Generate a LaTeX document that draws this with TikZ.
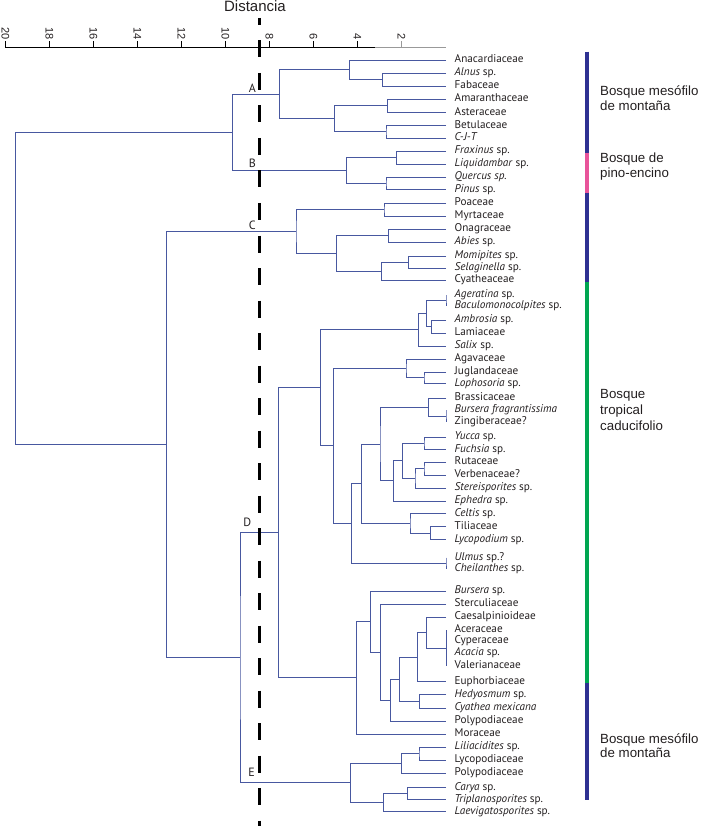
\documentclass[tikz,border=0pt]{standalone}
\usepackage{fontspec}
\newfontfamily\leaffont{PT Sans}
\newfontfamily\arialfont{Liberation Sans}
\definecolor{dencol}{RGB}{72,88,160}
\definecolor{txtcol}{RGB}{35,31,32}
\definecolor{navybar}{RGB}{46,49,146}
\definecolor{pinkbar}{RGB}{232,84,154}
\definecolor{greenbar}{RGB}{0,166,81}
\begin{document}
\begin{tikzpicture}[x=1pt,y=-1pt,
  den/.style={draw=dencol, line width=0.85pt},
  leaf/.style={anchor=west, inner sep=0pt, font=\leaffont\fontsize{11.2}{13}\selectfont, text height=7.5pt, text depth=2pt, text=txtcol},
  clusterlbl/.style={inner sep=0pt, font=\leaffont\fontsize{12}{14}\selectfont, text=txtcol},
  ticklbl/.style={rotate=-90, anchor=east, inner sep=0pt, font=\arialfont\fontsize{11}{13}\selectfont, text=txtcol},
  forestlbl/.style={anchor=base west, inner sep=0pt, font=\arialfont\fontsize{13.3}{15}\selectfont, text=txtcol},
  cutline/.style={draw=black, line width=3.2pt, dash pattern=on 17pt off 15.5pt, dash phase=10pt},
  bar/.style={line width=4.5pt}
]
\useasboundingbox (0,0) rectangle (702,826);

% title and axis
\node[inner sep=0pt, font=\arialfont\fontsize{15}{17}\selectfont, text=txtcol] (title) at (255,6.5) {Distancia};
\coordinate (ax0) at (5,47);
\coordinate (axm) at (375,47);
\coordinate (ax1) at (446,47);
\draw[line width=0.8pt] (ax0) -- (axm);
\draw[line width=0.8pt, draw=black!40] (axm) -- (ax1);
\foreach \d in {4,6,...,20} {
  \coordinate (tk\d) at ({445.5-22*\d},47);
  \draw[line width=0.8pt] (tk\d) -- ++(0,-5.5);
  \node[ticklbl] (tl\d) at ({445.5-22*\d},40) {\d};
}
\coordinate (tk2) at (401.5,47);
\draw[line width=0.8pt, draw=black!40] (tk2) -- ++(0,-5.5);
\node[ticklbl] (tl2) at (401.5,40) {2};

% leaves
\foreach \i/\y/\t in {
 1/60/Anacardiaceae, 2/73/{\textit{Alnus} sp.}, 3/86/Fabaceae, 4/99/Amaranthaceae,
 5/112.5/Asteraceae, 6/125.5/Betulaceae, 7/138/{\textit{C-J-T}}, 8/151/{\textit{Fraxinus} sp.},
 9/164/{\textit{Liquidambar} sp.}, 10/177/{\textit{Quercus sp.}}, 11/189.5/{\textit{Pinus} sp.},
 12/203/Poaceae, 13/216/Myrtaceae, 14/229/Onagraceae, 15/242/{\textit{Abies} sp.},
 16/256/{\textit{Momipites} sp.}, 17/268/{\textit{Selaginella} sp.}, 18/280/Cyatheaceae,
 19/295/{\textit{Ageratina} sp.}, 20/306/{\textit{Baculomonocolpites} sp.}, 21/320/{\textit{Ambrosia} sp.},
 22/333/Lamiaceae, 23/346/{\textit{Salix} sp.}, 24/359/Agavaceae, 25/372/Juglandaceae,
 26/383.5/{\textit{Lophosoria} sp.}, 27/398/Brassicaceae, 28/410/{\textit{Bursera fragrantissima}},
 29/422/Zingiberaceae?, 30/437/{\textit{Yucca} sp.}, 31/449.5/{\textit{Fuchsia} sp.}, 32/462/Rutaceae,
 33/475/Verbenaceae?, 34/488/{\textit{Stereisporites} sp.}, 35/501/{\textit{Ephedra} sp.},
 36/513.5/{\textit{Celtis} sp.}, 37/526.5/Tiliaceae, 38/539.5/{\textit{Lycopodium} sp.},
 39/557.5/{\textit{Ulmus} sp.?}, 40/568.5/{\textit{Cheilanthes} sp.}, 41/591/{\textit{Bursera} sp.},
 42/604/Sterculiaceae, 43/617/Caesalpinioideae, 44/630/Aceraceae, 45/641/Cyperaceae,
 46/653/{\textit{Acacia} sp.}, 47/666/Valerianaceae, 48/681.5/Euphorbiaceae,
 49/694.5/{\textit{Hedyosmum} sp.}, 50/708/{\textit{Cyathea mexicana}}, 51/721/Polypodiaceae,
 52/734/Moraceae, 53/747/{\textit{Liliacidites} sp.}, 54/760/Lycopodiaceae, 55/773/Polypodiaceae,
 56/787.5/{\textit{Carya} sp.}, 57/799.5/{\textit{Triplanosporites} sp.}, 58/811.5/{\textit{Laevigatosporites} sp.}} {
  \coordinate (l\i) at (446,\y);
  \node[leaf] (t\i) at (454.5,\y+0.2) {\t};
}

% internal nodes
\coordinate (a1) at (382.3,79.5);
\coordinate (a2) at (349.3,69.75);
\coordinate (a3) at (387.7,105.75);
\coordinate (a4) at (386,131.75);
\coordinate (a5) at (334.3,118.75);
\coordinate (A) at (279.3,94.25);
\coordinate (b1) at (396.7,157.5);
\coordinate (b2) at (386,183.25);
\coordinate (B) at (346.7,170.4);
\coordinate (AB) at (232.3,132.3);
\coordinate (c1) at (384,209.5);
\coordinate (c2) at (388.3,235.5);
\coordinate (c3) at (408.3,262);
\coordinate (c4) at (381.7,271);
\coordinate (c5) at (336.7,253.25);
\coordinate (C) at (296,231.4);
\coordinate (d1) at (446,300.5);
\coordinate (d2) at (431.7,326.5);
\coordinate (d3) at (426.7,313.5);
\coordinate (d4) at (418.3,329.75);
\coordinate (d5) at (424,377.75);
\coordinate (d6) at (406,368.4);
\coordinate (e1) at (446,416);
\coordinate (e2) at (428.3,407);
\coordinate (yf) at (424,443.25);
\coordinate (rv) at (424,468.5);
\coordinate (U) at (415,478.25);
\coordinate (V) at (402.7,460.75);
\coordinate (W) at (393.3,480.9);
\coordinate (Z) at (380,443.95);
\coordinate (tl) at (430.7,533);
\coordinate (ct) at (410,523.25);
\coordinate (Y) at (361.7,483.6);
\coordinate (uc) at (446,563);
\coordinate (X) at (351.7,523.3);
\coordinate (d8) at (333.3,445.85);
\coordinate (d9) at (320.7,387.8);
\coordinate (acv) at (446,648);
\coordinate (cs) at (426.7,632.5);
\coordinate (eu) at (417.3,657);
\coordinate (hc) at (419.3,701.25);
\coordinate (ehc) at (399.3,679.1);
\coordinate (pp) at (390.7,700.05);
\coordinate (st) at (380.7,652);
\coordinate (bs) at (370.7,621.5);
\coordinate (mo) at (356.7,677.75);
\coordinate (D) at (278.3,532.8);
\coordinate (ll) at (419,753.5);
\coordinate (llp) at (401.7,763.25);
\coordinate (ct2) at (407.7,793.5);
\coordinate (ctl) at (383.3,802.5);
\coordinate (E) at (350.7,782.9);
\coordinate (DE) at (240,657.85);
\coordinate (CDE) at (166.7,444.6);
\coordinate (root) at (15.7,288.45);

% connectors
\draw[den] (l2) -| (a1) |- (l3);
\draw[den] (l1) -| (a2) |- (a1);
\draw[den] (l4) -| (a3) |- (l5);
\draw[den] (l6) -| (a4) |- (l7);
\draw[den] (a3) -| (a5) |- (a4);
\draw[den] (a2) -| (A) |- (a5);
\draw[den] (l8) -| (b1) |- (l9);
\draw[den] (l10) -| (b2) |- (l11);
\draw[den] (b1) -| (B) |- (b2);
\draw[den] (A) -| (AB) |- (B);
\draw[den] (l12) -| (c1) |- (l13);
\draw[den] (l14) -| (c2) |- (l15);
\draw[den] (l16) -| (c3) |- (l17);
\draw[den] (c3) -| (c4) |- (l18);
\draw[den] (c2) -| (c5) |- (c4);
\draw[den] (c1) -| (C) |- (c5);
\draw[den] (l19) -| (d1) |- (l20);
\draw[den] (l21) -| (d2) |- (l22);
\draw[den] (d1) -| (d3) |- (d2);
\draw[den] (d3) -| (d4) |- (l23);
\draw[den] (l25) -| (d5) |- (l26);
\draw[den] (l24) -| (d6) |- (d5);
\draw[den] (l28) -| (e1) |- (l29);
\draw[den] (l27) -| (e2) |- (e1);
\draw[den] (l30) -| (yf) |- (l31);
\draw[den] (l32) -| (rv) |- (l33);
\draw[den] (rv) -| (U) |- (l34);
\draw[den] (yf) -| (V) |- (U);
\draw[den] (V) -| (W) |- (l35);
\draw[den] (e2) -| (Z) |- (W);
\draw[den] (l37) -| (tl) |- (l38);
\draw[den] (l36) -| (ct) |- (tl);
\draw[den] (Z) -| (Y) |- (ct);
\draw[den] (l39) -| (uc) |- (l40);
\draw[den] (Y) -| (X) |- (uc);
\draw[den] (d6) -| (d8) |- (X);
\draw[den] (d4) -| (d9) |- (d8);
\draw[den] (l44) -- (l47);
\draw[den] (l43) -| (cs) |- (acv);
\draw[den] (cs) -| (eu) |- (l48);
\draw[den] (l49) -| (hc) |- (l50);
\draw[den] (eu) -| (ehc) |- (hc);
\draw[den] (ehc) -| (pp) |- (l51);
\draw[den] (l42) -| (st) |- (pp);
\draw[den] (l41) -| (bs) |- (st);
\draw[den] (bs) -| (mo) |- (l52);
\draw[den] (d9) -| (D) |- (mo);
\draw[den] (l53) -| (ll) |- (l54);
\draw[den] (ll) -| (llp) |- (l55);
\draw[den] (l56) -| (ct2) |- (l57);
\draw[den] (ct2) -| (ctl) |- (l58);
\draw[den] (llp) -| (E) |- (ctl);
\draw[den] (D) -| (DE) |- (E);
\draw[den] (C) -| (CDE) |- (DE);
\draw[den] (AB) -| (root) |- (CDE);

% cut line
\coordinate (cutTop) at (259.5,18);
\coordinate (cutBot) at (259.5,826);
\draw[cutline] (cutTop) -- (cutBot);

% cluster letters
\node[clusterlbl] (lblA) at (252.3,88.3) {A};
\node[clusterlbl] (lblB) at (252.3,163.3) {B};
\node[clusterlbl] (lblC) at (252.3,225) {C};
\node[clusterlbl] (lblD) at (247.3,522.7) {D};
\node[clusterlbl] (lblE) at (251.7,772.3) {E};

% vegetation bars
\coordinate (v0) at (587,51.7);
\coordinate (v1) at (587,152.7);
\coordinate (v2) at (587,192.7);
\coordinate (v3) at (587,282);
\coordinate (v4) at (587,683);
\coordinate (v5) at (587,800);
\draw[bar, navybar] (v0) -- (v1);
\draw[bar, pinkbar] (v1) -- (v2);
\draw[bar, navybar] (v2) -- (v3);
\draw[bar, greenbar] (v3) -- (v4);
\draw[bar, navybar] (v4) -- (v5);

\node[forestlbl] (f1a) at (600,96) {Bosque mesófilo};
\node[forestlbl] (f1b) at (600,110.5) {de montaña};
\node[forestlbl] (f2a) at (600,163) {Bosque de};
\node[forestlbl] (f2b) at (600,177.5) {pino-encino};
\node[forestlbl] (f3a) at (600,398) {Bosque};
\node[forestlbl] (f3b) at (600,414) {tropical};
\node[forestlbl] (f3c) at (600,430) {caducifolio};
\node[forestlbl] (f4a) at (600,743) {Bosque mesófilo};
\node[forestlbl] (f4b) at (600,757.5) {de montaña};
\end{tikzpicture}
\end{document}
